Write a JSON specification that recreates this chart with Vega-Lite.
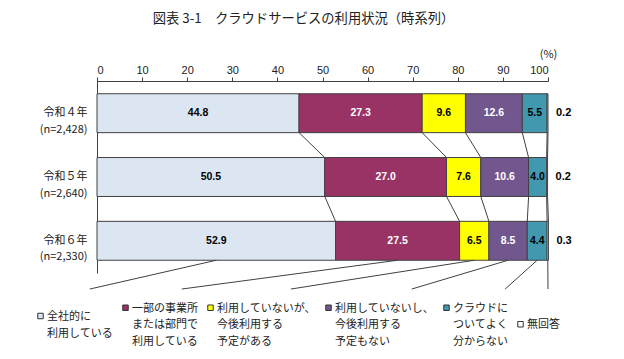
{
  "$schema": "https://vega.github.io/schema/vega-lite/v6.json",
  "autosize": {"type": "none"},
  "padding": {"left": 97, "top": 81, "right": 76, "bottom": 86},
  "width": 451,
  "height": 192,
  "background": "white",
  "title": {"text": "図表 3-1　クラウドサービスの利用状況（時系列）", "font": "Noto Sans CJK JP", "fontSize": 13.3, "fontWeight": "normal", "color": "#222", "anchor": "middle", "dx": -19, "offset": 23},
  "datasets": {
    "main": [
      {"year": "令和４年|(n=2,428)", "yi": 1, "k": 1, "cat": "全社的に|利用している", "value": 44.8},
      {"year": "令和４年|(n=2,428)", "yi": 1, "k": 2, "cat": "一部の事業所|または部門で|利用している", "value": 27.3},
      {"year": "令和４年|(n=2,428)", "yi": 1, "k": 3, "cat": "利用していないが、|今後利用する|予定がある", "value": 9.6},
      {"year": "令和４年|(n=2,428)", "yi": 1, "k": 4, "cat": "利用していないし、|今後利用する|予定もない", "value": 12.6},
      {"year": "令和４年|(n=2,428)", "yi": 1, "k": 5, "cat": "クラウドに|ついてよく|分からない", "value": 5.5},
      {"year": "令和４年|(n=2,428)", "yi": 1, "k": 6, "cat": "無回答", "value": 0.2},
      {"year": "令和５年|(n=2,640)", "yi": 2, "k": 1, "cat": "全社的に|利用している", "value": 50.5},
      {"year": "令和５年|(n=2,640)", "yi": 2, "k": 2, "cat": "一部の事業所|または部門で|利用している", "value": 27.0},
      {"year": "令和５年|(n=2,640)", "yi": 2, "k": 3, "cat": "利用していないが、|今後利用する|予定がある", "value": 7.6},
      {"year": "令和５年|(n=2,640)", "yi": 2, "k": 4, "cat": "利用していないし、|今後利用する|予定もない", "value": 10.6},
      {"year": "令和５年|(n=2,640)", "yi": 2, "k": 5, "cat": "クラウドに|ついてよく|分からない", "value": 4.0},
      {"year": "令和５年|(n=2,640)", "yi": 2, "k": 6, "cat": "無回答", "value": 0.2},
      {"year": "令和６年|(n=2,330)", "yi": 3, "k": 1, "cat": "全社的に|利用している", "value": 52.9},
      {"year": "令和６年|(n=2,330)", "yi": 3, "k": 2, "cat": "一部の事業所|または部門で|利用している", "value": 27.5},
      {"year": "令和６年|(n=2,330)", "yi": 3, "k": 3, "cat": "利用していないが、|今後利用する|予定がある", "value": 6.5},
      {"year": "令和６年|(n=2,330)", "yi": 3, "k": 4, "cat": "利用していないし、|今後利用する|予定もない", "value": 8.5},
      {"year": "令和６年|(n=2,330)", "yi": 3, "k": 5, "cat": "クラウドに|ついてよく|分からない", "value": 4.4},
      {"year": "令和６年|(n=2,330)", "yi": 3, "k": 6, "cat": "無回答", "value": 0.3}
    ],
    "leaders": [
      {"cat": "全社的に|利用している", "lx": -1.6},
      {"cat": "一部の事業所|または部門で|利用している", "lx": 18.8},
      {"cat": "利用していないが、|今後利用する|予定がある", "lx": 43.0},
      {"cat": "利用していないし、|今後利用する|予定もない", "lx": 69.8},
      {"cat": "クラウドに|ついてよく|分からない", "lx": 90.5},
      {"cat": "無回答", "lx": 100}
    ]
  },
  "data": {"name": "main"},
  "transform": [
    {"stack": "value", "groupby": ["year"], "sort": [{"field": "k", "order": "ascending"}], "as": ["x0", "x1"]},
    {"calculate": "(datum.x0 + datum.x1) / 2", "as": "mid"}
  ],
  "layer": [
    {
      "mark": {"type": "bar", "stroke": "#404040", "strokeWidth": 1},
      "encoding": {
        "y": {"field": "year", "type": "nominal", "scale": {"paddingInner": 0.39, "paddingOuter": 0.2},
          "axis": {"title": null, "ticks": false, "domainColor": "#404040", "labelFont": "Noto Sans CJK JP", "labelFontSize": 11, "labelColor": "#222", "labelExpr": "split(datum.label, '|')", "labelLineHeight": 16.5, "labelPadding": 10, "labelAlign": "right"}},
        "x": {"field": "x0", "type": "quantitative", "scale": {"domain": [0, 100], "nice": false},
          "axis": {"orient": "top", "values": [0, 10, 20, 30, 40, 50, 60, 70, 80, 90, 100], "grid": false, "tickSize": 4, "tickColor": "#404040", "domainColor": "#404040", "labelFont": "Liberation Sans", "labelFontSize": 11, "labelColor": "#222", "labelPadding": 2, "title": "(%)", "titleFont": "Noto Sans CJK JP", "titleFontSize": 11, "titleFontWeight": "normal", "titleColor": "#222", "titleAnchor": "end", "titleAlign": "center", "titlePadding": 5}},
        "x2": {"field": "x1"},
        "color": {"field": "cat", "type": "nominal",
          "scale": {"domain": ["全社的に|利用している", "一部の事業所|または部門で|利用している", "利用していないが、|今後利用する|予定がある", "利用していないし、|今後利用する|予定もない", "クラウドに|ついてよく|分からない", "無回答"],
            "range": ["#DCE6F2", "#993366", "#FFFF00", "#72578F", "#4198AF", "#FFFFFF"]},
          "legend": {"orient": "none", "legendX": -62, "legendY": 221, "direction": "horizontal", "columns": 6, "title": null, "padding": 0,
            "symbolType": "square", "symbolSize": 30, "symbolStrokeColor": "#333", "symbolStrokeWidth": 1, "symbolOpacity": 1,
            "labelFont": "Noto Sans CJK JP", "labelFontSize": 11, "labelColor": "#222", "labelOffset": 1, "labelLimit": 300, "columnPadding": 7,
            "labelExpr": "split(datum.label, '|')", "labelBaseline": "alphabetic",
            "encode": {"labels": {"update": {"lineHeight": {"value": 16.5}, "dy": {"value": 4}}}}}}
      }
    },
    {
      "transform": [{"filter": "datum.k < 6"}],
      "mark": {"type": "text", "font": "Liberation Sans", "fontSize": 10.5, "fontWeight": "bold"},
      "encoding": {
        "y": {"field": "year", "type": "nominal"},
        "x": {"field": "mid", "type": "quantitative"},
        "text": {"field": "value", "type": "quantitative", "format": ".1f"},
        "color": {"condition": {"test": "datum.k == 2 || datum.k == 4", "value": "white"}, "value": "black"}
      }
    },
    {
      "transform": [{"filter": "datum.k == 6"}],
      "mark": {"type": "text", "font": "Liberation Sans", "fontSize": 11, "fontWeight": "bold", "align": "left", "dx": 8, "color": "black"},
      "encoding": {
        "y": {"field": "year", "type": "nominal"},
        "x": {"field": "x1", "type": "quantitative"},
        "text": {"field": "value", "type": "quantitative", "format": ".1f"}
      }
    },
    {
      "transform": [
        {"window": [{"op": "lead", "field": "x1", "as": "nx"}, {"op": "lead", "field": "year", "as": "ny"}], "groupby": ["cat"], "sort": [{"field": "yi", "order": "ascending"}]},
        {"filter": "datum.ny != null"}
      ],
      "mark": {"type": "rule", "color": "#404040", "strokeWidth": 1},
      "encoding": {
        "x": {"field": "x1", "type": "quantitative"},
        "x2": {"field": "nx"},
        "y": {"field": "year", "type": "nominal", "bandPosition": 1},
        "y2": {"field": "ny", "bandPosition": 0}
      }
    },
    {
      "transform": [
        {"filter": "datum.yi == 3"},
        {"lookup": "cat", "from": {"data": {"name": "leaders"}, "key": "cat", "fields": ["lx"]}}
      ],
      "mark": {"type": "rule", "color": "#404040", "strokeWidth": 1},
      "encoding": {
        "x": {"field": "mid", "type": "quantitative"},
        "x2": {"field": "lx"},
        "y": {"field": "year", "type": "nominal", "bandPosition": 1},
        "y2": {"field": "year", "bandPosition": 1.74}
      }
    }
  ],
  "config": {"view": {"stroke": null}}
}
